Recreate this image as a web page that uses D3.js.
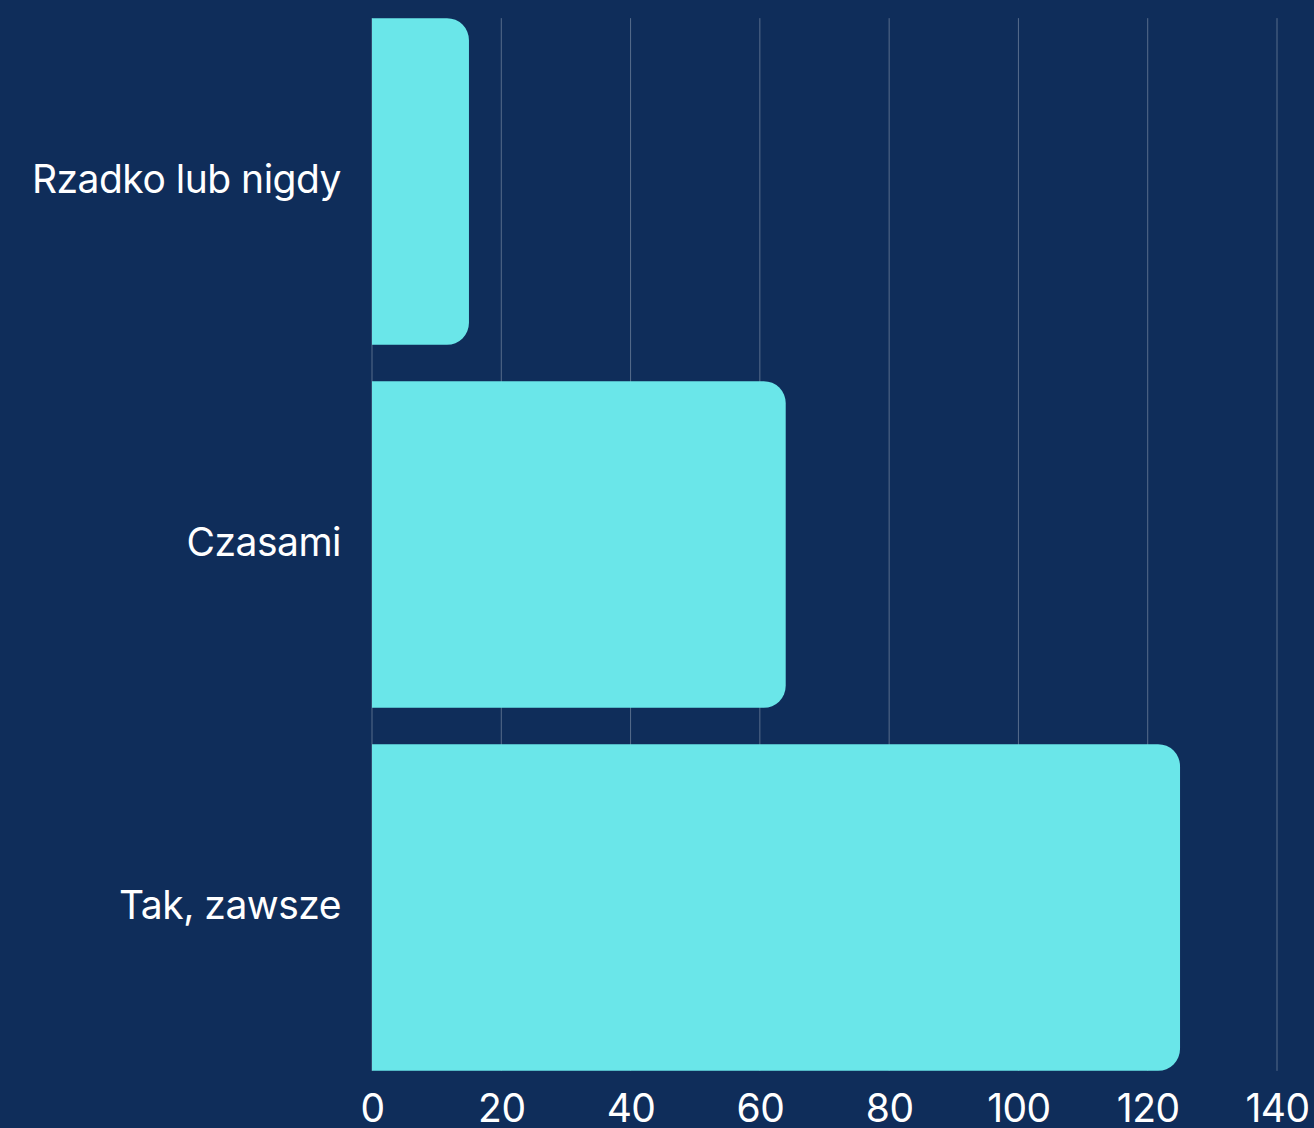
<!DOCTYPE html>
<html>
<head>
<meta charset="utf-8">
<script src="https://cdn.jsdelivr.net/npm/d3@7"></script>
<style>
  html, body { margin: 0; padding: 0; background: #0f2d5a; }
  svg { display: block; }
</style>
</head>
<body>
<script>
// Survey answers and counts
const categories = ["Rzadko lub nigdy", "Czasami", "Tak, zawsze"];
const values = [15, 64, 125];
const tickValues = [0, 20, 40, 60, 80, 100, 120, 140];

const W = 1314, H = 1128;
const margin = { left: 372, right: 37, top: 0, bottom: 39 };

const svg = d3.select("body").append("svg")
  .attr("width", W).attr("height", H);

svg.append("rect").attr("width", W).attr("height", H).attr("fill", "#0f2d5a");

const x = d3.scaleLinear().domain([0, 140]).range([margin.left, W - margin.right]);
const y = d3.scaleBand().domain(categories)
  .range([margin.top, H - margin.bottom])
  .paddingInner(0.1).paddingOuter(0.05);

const gridTop = y(categories[0]);
const gridBottom = y(categories[categories.length - 1]) + y.bandwidth();

// Vertical grid lines
svg.append("g").selectAll("line").data(tickValues).join("line")
  .attr("x1", d => x(d)).attr("x2", d => x(d))
  .attr("y1", gridTop).attr("y2", gridBottom)
  .attr("stroke", "#ffffff").attr("stroke-opacity", 0.3).attr("stroke-width", 1);

// Bars with rounded right corners
const r = 22;
function barPath(v, cat) {
  const x0 = x(0), x1 = x(v), y0 = y(cat), y1 = y0 + y.bandwidth();
  const rr = Math.min(r, (x1 - x0) / 2);
  return `M${x0},${y0}H${x1 - rr}A${rr},${rr} 0 0 1 ${x1},${y0 + rr}` +
         `V${y1 - rr}A${rr},${rr} 0 0 1 ${x1 - rr},${y1}H${x0}Z`;
}
svg.append("g").selectAll("path").data(categories).join("path")
  .attr("d", (c, i) => barPath(values[i], c))
  .attr("fill", "#6ae6e9");

// Category labels
svg.append("g").selectAll("text").data(categories).join("text")
  .attr("x", x(0) - 31)
  .attr("y", c => y(c) + y.bandwidth() / 2 - 3)
  .attr("text-anchor", "end")
  .attr("dominant-baseline", "central")
  .attr("fill", "#ffffff")
  .attr("font-family", "Inter, sans-serif")
  .attr("font-size", 39)
  .attr("letter-spacing", -0.5)
  .text(c => c);

// X axis tick labels
const xAxis = d3.axisBottom(x).tickValues(tickValues).tickSize(0).tickPadding(0);
const gx = svg.append("g").attr("transform", `translate(0,${H - 40})`).call(xAxis);
gx.select(".domain").remove();
gx.selectAll("text")
  .attr("fill", "#ffffff")
  .attr("font-family", "Inter, sans-serif")
  .attr("font-size", 39)
  .attr("letter-spacing", -0.5)
  .attr("dy", null)
  .attr("y", 19)
  .attr("dominant-baseline", "central");
</script>
</body>
</html>
